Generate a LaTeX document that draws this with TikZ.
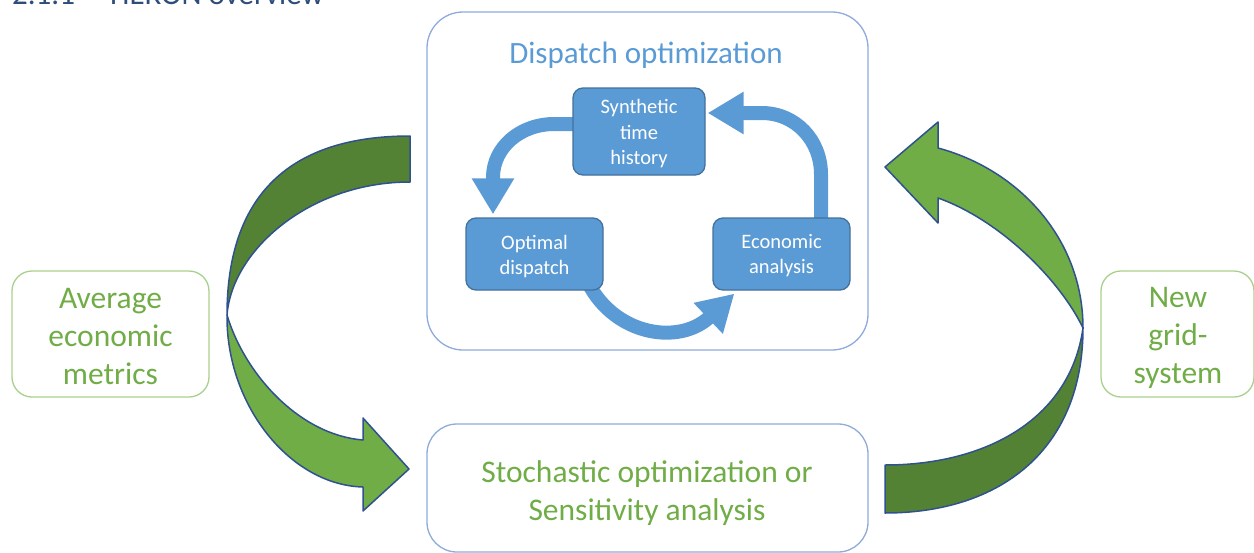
\documentclass[tikz,border=0pt]{standalone}
\usepackage{fontspec}
\setmainfont{Carlito}
\usetikzlibrary{arrows.meta,calc,backgrounds}
\definecolor{bfill}{HTML}{5B9BD5}
\definecolor{bline}{HTML}{41719C}
\definecolor{boxline}{HTML}{8FAADC}
\definecolor{gtextc}{HTML}{70AD47}
\definecolor{gboxline}{HTML}{A9D18E}
\definecolor{gdarkc}{HTML}{548235}
\definecolor{glightc}{HTML}{70AD47}
\definecolor{aline}{HTML}{2F528F}
\definecolor{headc}{HTML}{2E4D7B}
\begin{document}
\begin{tikzpicture}[x=1pt,y=-1pt,
  innerbox/.style={draw=bline, line width=1.3pt, fill=bfill, rounded corners=10pt, inner sep=0pt},
  innertext/.style={text=white, font=\fontsize{20.5}{25.5}\selectfont, align=center, inner sep=0pt},
  bluebox/.style={draw=boxline, line width=1.3pt, rounded corners=36pt, inner sep=0pt},
  greenbox/.style={draw=gboxline, line width=1.3pt, rounded corners=20pt, inner sep=0pt},
  gtext/.style={text=gtextc, font=\fontsize{31.5}{38}\selectfont, align=center, inner sep=0pt},
  btitle/.style={text=bfill, font=\fontsize{31}{37}\selectfont, inner sep=0pt},
  head/.style={text=headc, font=\fontsize{31}{37}\selectfont, inner sep=0pt, anchor=base west},
  barrow/.style={draw=bfill, line width=14pt, -{Triangle[width=40pt,length=36pt]}},
  gdark/.style={fill=gdarkc, draw=aline, line width=1.5pt, line join=round},
  glight/.style={fill=glightc, draw=aline, line width=1.5pt, line join=round}]
\useasboundingbox (0,0) rectangle (1254,552);
\clip (0,0) rectangle (1254,552);

% heading (cut off at top)
\node[head] (sec) at (12,4.5) {2.1.1};
\node[head] (heron) at (110,4.5) {HERON overview};

% main boxes
\node[bluebox, minimum width=441pt, minimum height=338pt] (disp) at (647.5,181) {};
\node[btitle] (disptitle) at (646,55.5) {Dispatch optimization};
\node[bluebox, rounded corners=30pt, minimum width=441pt, minimum height=128pt] (stoch) at (647.5,488) {};
\node[gtext] (stochtext) at (647,493) {Stochastic optimization or\\Sensitivity analysis};
\node[greenbox, minimum width=197pt, minimum height=126pt] (avg) at (110.5,334) {};
\node[gtext] (avgtext) at (110.5,336.5) {Average\\economic\\metrics};
\node[greenbox, minimum width=153pt, minimum height=126pt] (new) at (1177.5,334) {};
\node[gtext] (newtext) at (1178,337.5) {New\\grid-\\system};

% inner boxes
\node[innerbox, minimum width=132pt, minimum height=87pt] (syn) at (639,131.5) {};
\node[innertext] (syntext) at (639,134) {Synthetic\\time\\history};
\node[innerbox, minimum width=137pt, minimum height=72pt] (opt) at (534.5,254) {};
\node[innertext] (opttext) at (534.5,256.5) {Optimal\\dispatch};
\node[innerbox, minimum width=137pt, minimum height=72pt] (econ) at (781.5,254) {};
\node[innertext] (econtext) at (781.5,255.5) {Economic\\analysis};

% blue cycle arrows
\begin{scope}[on background layer]
\draw[barrow] ($(syn.west)+(12,-7.5)$) -- ($(syn.west)+(-18,-7.5)$)
  .. controls +(-34,0) and +(0,-30) .. ($(opt.north)+(-41.5,-40)$) -- ($(opt.north)+(-41.5,-3)$);
\draw[barrow] ($(opt.south)+(53.5,-8)$)
  .. controls +(27,53) and +(-55,52) .. ($(econ.south west)+(22,3)$);
\draw[barrow] ($(econ.north)+(39.5,8)$) -- ($(econ.north)+(39.5,-43)$)
  .. controls +(0,-34) and +(34,0) .. ($(syn.east)+(56,-18.5)$) -- ($(syn.east)+(2,-18.5)$);
\end{scope}

% left big curved arrow
\path[gdark] (410,136) .. controls (290,136) and (227,195) .. (227,315)
  .. controls (232,250) and (310,182) .. (410,182) -- cycle;
\path[glight] (227,315) .. controls (226,405) and (290,485) .. (363,487)
  -- (363,511) -- (409,469) -- (363,418) -- (363,440)
  .. controls (300,435) and (245,375) .. (227,315) -- cycle;

% right big curved arrow
\path[gdark] (885,513) .. controls (1000,513) and (1083,450) .. (1083,328)
  .. controls (1070,420) and (985,465) .. (885,465) -- cycle;
\path[glight] (1083,328) .. controls (1083,240) and (1020,170) .. (938,148)
  -- (938,122) -- (885,167) -- (938,223) -- (938,198)
  .. controls (1000,220) and (1060,280) .. (1083,328) -- cycle;
\end{tikzpicture}
\end{document}
